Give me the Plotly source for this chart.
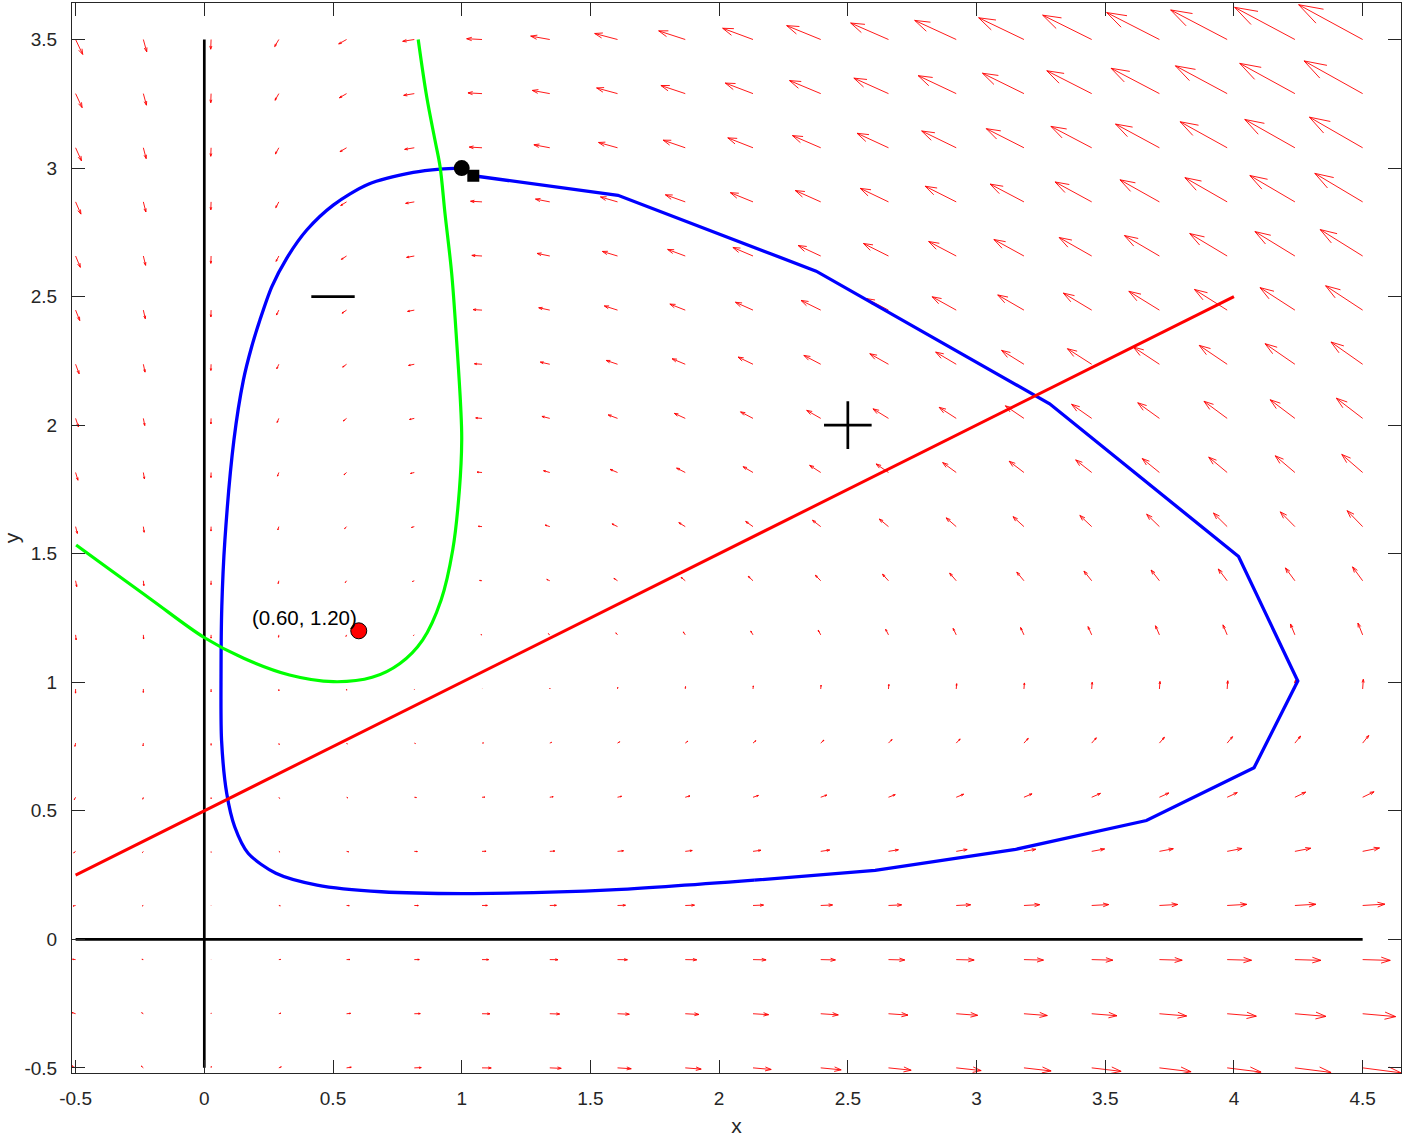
import plotly.graph_objects as go

X_GRID = [-0.5, -0.2368, 0.0263, 0.2895, 0.5526, 0.8158, 1.0789, 1.3421, 1.6053, 1.8684,
          2.1316, 2.3947, 2.6579, 2.9211, 3.1842, 3.4474, 3.7105, 3.9737, 4.2368, 4.5]
Y_GRID = [-0.5, -0.2895, -0.0789, 0.1316, 0.3421, 0.5526, 0.7632, 0.9737, 1.1842, 1.3947,
          1.6053, 1.8158, 2.0263, 2.2368, 2.4474, 2.6579, 2.8684, 3.0789, 3.2895, 3.5]

U = [
    [-0.75, -0.355, 0.039, 0.434, 0.829, 1.224, 1.618, 2.013, 2.408, 2.803, 3.197, 3.592, 3.987, 4.382, 4.776, 5.171, 5.566, 5.961, 6.355, 6.75],
    [-0.645, -0.305, 0.034, 0.373, 0.713, 1.052, 1.391, 1.731, 2.070, 2.409, 2.749, 3.088, 3.427, 3.767, 4.106, 4.445, 4.785, 5.124, 5.463, 5.803],
    [-0.539, -0.256, 0.028, 0.312, 0.596, 0.880, 1.164, 1.448, 1.732, 2.016, 2.300, 2.584, 2.868, 3.152, 3.436, 3.719, 4.003, 4.287, 4.571, 4.855],
    [-0.434, -0.206, 0.023, 0.251, 0.480, 0.708, 0.937, 1.165, 1.394, 1.623, 1.851, 2.080, 2.308, 2.537, 2.765, 2.994, 3.222, 3.451, 3.679, 3.908],
    [-0.329, -0.156, 0.017, 0.190, 0.364, 0.537, 0.710, 0.883, 1.056, 1.229, 1.402, 1.576, 1.749, 1.922, 2.095, 2.268, 2.441, 2.614, 2.787, 2.961],
    [-0.224, -0.106, 0.012, 0.130, 0.247, 0.365, 0.483, 0.600, 0.718, 0.836, 0.954, 1.071, 1.189, 1.307, 1.425, 1.542, 1.660, 1.778, 1.896, 2.013],
    [-0.118, -0.056, 0.006, 0.069, 0.131, 0.193, 0.255, 0.318, 0.380, 0.442, 0.505, 0.567, 0.629, 0.692, 0.754, 0.816, 0.879, 0.941, 1.003, 1.066],
    [-0.013, -0.006, 0.001, 0.008, 0.015, 0.021, 0.028, 0.035, 0.042, 0.049, 0.056, 0.063, 0.070, 0.077, 0.084, 0.091, 0.098, 0.105, 0.111, 0.118],
    [0.092, 0.044, -0.005, -0.053, -0.102, -0.150, -0.199, -0.247, -0.296, -0.344, -0.393, -0.441, -0.490, -0.538, -0.587, -0.635, -0.684, -0.732, -0.780, -0.829],
    [0.197, 0.093, -0.010, -0.114, -0.218, -0.322, -0.426, -0.530, -0.634, -0.737, -0.841, -0.945, -1.049, -1.153, -1.257, -1.361, -1.465, -1.569, -1.672, -1.776],
    [0.303, 0.143, -0.016, -0.175, -0.334, -0.494, -0.653, -0.812, -0.972, -1.131, -1.290, -1.450, -1.609, -1.768, -1.927, -2.087, -2.246, -2.405, -2.565, -2.724],
    [0.408, 0.193, -0.021, -0.236, -0.451, -0.666, -0.880, -1.095, -1.310, -1.524, -1.739, -1.954, -2.168, -2.383, -2.598, -2.812, -3.027, -3.242, -3.457, -3.671],
    [0.513, 0.243, -0.027, -0.297, -0.567, -0.837, -1.107, -1.377, -1.647, -1.918, -2.188, -2.458, -2.728, -2.998, -3.268, -3.538, -3.808, -4.078, -4.348, -4.618],
    [0.618, 0.293, -0.033, -0.358, -0.684, -1.009, -1.334, -1.660, -1.985, -2.311, -2.636, -2.962, -3.287, -3.613, -3.938, -4.264, -4.589, -4.914, -5.240, -5.566],
    [0.724, 0.343, -0.038, -0.419, -0.800, -1.181, -1.562, -1.943, -2.324, -2.704, -3.085, -3.466, -3.847, -4.228, -4.609, -4.990, -5.371, -5.752, -6.133, -6.513],
    [0.829, 0.393, -0.044, -0.480, -0.916, -1.353, -1.789, -2.225, -2.661, -3.098, -3.534, -3.970, -4.407, -4.843, -5.279, -5.716, -6.152, -6.588, -7.024, -7.461],
    [0.934, 0.442, -0.049, -0.541, -1.033, -1.524, -2.016, -2.508, -2.999, -3.491, -3.983, -4.475, -4.966, -5.458, -5.950, -6.441, -6.933, -7.425, -7.917, -8.408],
    [1.039, 0.492, -0.055, -0.602, -1.149, -1.696, -2.243, -2.790, -3.337, -3.884, -4.431, -4.978, -5.526, -6.073, -6.620, -7.167, -7.714, -8.261, -8.808, -9.355],
    [1.145, 0.542, -0.060, -0.663, -1.265, -1.868, -2.470, -3.073, -3.675, -4.278, -4.880, -5.483, -6.085, -6.688, -7.290, -7.893, -8.495, -9.098, -9.700, -10.303],
    [1.25, 0.592, -0.066, -0.724, -1.382, -2.039, -2.697, -3.355, -4.013, -4.671, -5.329, -5.987, -6.645, -7.303, -7.961, -8.618, -9.276, -9.934, -10.592, -11.25],
]

V = [
    [0.375, 0.309, 0.243, 0.178, 0.112, 0.046, -0.020, -0.086, -0.151, -0.217, -0.283, -0.349, -0.414, -0.480, -0.546, -0.612, -0.678, -0.743, -0.809, -0.875],
    [0.217, 0.179, 0.141, 0.103, 0.065, 0.027, -0.011, -0.050, -0.088, -0.126, -0.164, -0.202, -0.240, -0.278, -0.316, -0.354, -0.392, -0.430, -0.468, -0.507],
    [0.059, 0.049, 0.038, 0.028, 0.018, 0.007, -0.003, -0.014, -0.024, -0.034, -0.045, -0.055, -0.065, -0.076, -0.086, -0.097, -0.107, -0.117, -0.128, -0.138],
    [-0.099, -0.081, -0.064, -0.047, -0.029, -0.012, 0.005, 0.023, 0.040, 0.057, 0.074, 0.092, 0.109, 0.126, 0.144, 0.161, 0.178, 0.196, 0.213, 0.230],
    [-0.257, -0.212, -0.167, -0.122, -0.077, -0.032, 0.014, 0.059, 0.104, 0.149, 0.194, 0.239, 0.284, 0.329, 0.374, 0.419, 0.464, 0.509, 0.554, 0.599],
    [-0.414, -0.342, -0.269, -0.196, -0.124, -0.051, 0.022, 0.095, 0.167, 0.240, 0.313, 0.385, 0.458, 0.531, 0.604, 0.676, 0.749, 0.822, 0.894, 0.967],
    [-0.572, -0.472, -0.372, -0.271, -0.171, -0.070, 0.030, 0.131, 0.231, 0.331, 0.432, 0.532, 0.633, 0.733, 0.833, 0.934, 1.034, 1.135, 1.235, 1.336],
    [-0.730, -0.602, -0.474, -0.346, -0.218, -0.090, 0.038, 0.167, 0.295, 0.423, 0.551, 0.679, 0.807, 0.935, 1.063, 1.191, 1.320, 1.448, 1.576, 1.704],
    [-0.888, -0.732, -0.577, -0.421, -0.265, -0.109, 0.047, 0.203, 0.358, 0.514, 0.670, 0.826, 0.982, 1.137, 1.293, 1.449, 1.605, 1.761, 1.917, 2.072],
    [-1.046, -0.863, -0.679, -0.495, -0.312, -0.128, 0.055, 0.239, 0.422, 0.606, 0.789, 0.973, 1.156, 1.340, 1.523, 1.707, 1.890, 2.074, 2.257, 2.441],
    [-1.204, -0.993, -0.782, -0.570, -0.359, -0.148, 0.063, 0.275, 0.486, 0.697, 0.908, 1.119, 1.331, 1.542, 1.753, 1.964, 2.176, 2.387, 2.598, 2.809],
    [-1.362, -1.123, -0.884, -0.645, -0.406, -0.167, 0.072, 0.311, 0.550, 0.788, 1.027, 1.266, 1.505, 1.744, 1.983, 2.222, 2.461, 2.700, 2.939, 3.178],
    [-1.520, -1.253, -0.987, -0.720, -0.453, -0.187, 0.080, 0.347, 0.613, 0.880, 1.147, 1.413, 1.680, 1.946, 2.213, 2.480, 2.746, 3.013, 3.279, 3.546],
    [-1.678, -1.383, -1.089, -0.795, -0.500, -0.206, 0.088, 0.383, 0.677, 0.971, 1.266, 1.560, 1.854, 2.149, 2.443, 2.737, 3.032, 3.326, 3.620, 3.914],
    [-1.836, -1.514, -1.191, -0.869, -0.547, -0.225, 0.097, 0.419, 0.741, 1.063, 1.385, 1.707, 2.029, 2.351, 2.673, 2.995, 3.317, 3.639, 3.961, 4.283],
    [-1.993, -1.644, -1.294, -0.944, -0.595, -0.245, 0.105, 0.455, 0.804, 1.154, 1.504, 1.853, 2.203, 2.553, 2.903, 3.252, 3.602, 3.952, 4.302, 4.651],
    [-2.151, -1.774, -1.396, -1.019, -0.642, -0.264, 0.113, 0.491, 0.868, 1.245, 1.623, 2.000, 2.378, 2.755, 3.133, 3.510, 3.887, 4.265, 4.642, 5.020],
    [-2.309, -1.904, -1.499, -1.094, -0.689, -0.284, 0.122, 0.527, 0.932, 1.337, 1.742, 2.147, 2.552, 2.957, 3.362, 3.767, 4.173, 4.578, 4.983, 5.388],
    [-2.467, -2.034, -1.601, -1.169, -0.736, -0.303, 0.130, 0.563, 0.996, 1.428, 1.861, 2.294, 2.727, 3.160, 3.592, 4.025, 4.458, 4.891, 5.324, 5.757],
    [-2.625, -2.164, -1.704, -1.243, -0.783, -0.322, 0.138, 0.599, 1.059, 1.520, 1.980, 2.441, 2.901, 3.362, 3.822, 4.283, 4.743, 5.204, 5.664, 6.125],
]

# trajectory (starts at the circle, ends at the square)
ORBIT_X = [1.000, 0.916, 0.812, 0.637, 0.501, 0.398, 0.320, 0.262, 0.216, 0.184, 0.152, 0.115,
           0.080, 0.068, 0.065, 0.067, 0.087, 0.118, 0.171, 0.278, 0.438, 0.688, 1.045, 1.580,
           2.136, 2.606, 3.152, 3.660, 4.078, 4.248, 4.018, 3.284, 2.377, 1.607, 1.045]
ORBIT_Y = [3.000, 2.996, 2.983, 2.937, 2.856, 2.759, 2.649, 2.538, 2.409, 2.305, 2.176, 1.942,
           1.553, 1.294, 1.035, 0.775, 0.568, 0.438, 0.334, 0.257, 0.211, 0.185, 0.178, 0.192,
           0.230, 0.268, 0.350, 0.462, 0.667, 1.005, 1.489, 2.083, 2.599, 2.894, 2.970]
ORBIT_SMOOTH_END = 24  # slow part of the orbit is densely sampled (smooth), the rest is coarse

# green curve
GREEN_X = [-0.498, -0.382, -0.204, 0.001, 0.153, 0.331, 0.501, 0.652, 0.760, 0.848, 0.920,
           0.965, 0.991, 1.000, 0.996, 0.980, 0.961, 0.935, 0.916, 0.896, 0.864, 0.831]
GREEN_Y = [1.534, 1.449, 1.320, 1.173, 1.093, 1.028, 1.002, 1.019, 1.073, 1.164, 1.320,
           1.514, 1.748, 1.942, 2.072, 2.331, 2.590, 2.824, 3.005, 3.109, 3.277, 3.500]

# red straight line
RED_X = [-0.5, 4.0]
RED_Y = [0.25, 2.5]

# coordinate axes drawn as lines
VAXIS_X = [0, 0]
VAXIS_Y = [-0.5, 3.5]
HAXIS_X = [-0.5, 4.5]
HAXIS_Y = [0, 0]

POINT = (0.60, 1.20)
MINUS_POS = (0.5, 2.5)
PLUS_POS = (2.5, 2.0)

X_TICKS = [-0.5, 0, 0.5, 1, 1.5, 2, 2.5, 3, 3.5, 4, 4.5]
X_TICK_TEXT = ["-0.5", "0", "0.5", "1", "1.5", "2", "2.5", "3", "3.5", "4", "4.5"]
Y_TICKS = [-0.5, 0, 0.5, 1, 1.5, 2, 2.5, 3, 3.5]
Y_TICK_TEXT = ["-0.5", "0", "0.5", "1", "1.5", "2", "2.5", "3", "3.5"]

ARROW_SCALE = 0.0221
HEAD_A = 0.33
HEAD_B = 0.33
FONT = "Liberation Sans, Arial, sans-serif"
AXIS_GREY = "#262626"

qx, qy = [], []
for i, yv in enumerate(Y_GRID):
    for j, xv in enumerate(X_GRID):
        du = U[i][j] * ARROW_SCALE
        dv = V[i][j] * ARROW_SCALE
        tx, ty = xv + du, yv + dv
        qx += [xv, tx, None,
               tx - HEAD_A * (du + HEAD_B * dv), tx, tx - HEAD_A * (du - HEAD_B * dv), None]
        qy += [yv, ty, None,
               ty - HEAD_A * (dv - HEAD_B * du), ty, ty - HEAD_A * (dv + HEAD_B * du), None]

fig = go.Figure()
fig.add_trace(go.Scatter(x=qx, y=qy, mode="lines", line=dict(color="#ff0000", width=0.9),
                         hoverinfo="skip", showlegend=False))

for lx, ly in ((VAXIS_X, VAXIS_Y), (HAXIS_X, HAXIS_Y)):
    fig.add_trace(go.Scatter(x=lx, y=ly, mode="lines", line=dict(color="black", width=2.7),
                             hoverinfo="skip", showlegend=False))

k = ORBIT_SMOOTH_END
fig.add_trace(go.Scatter(x=ORBIT_X[:k + 1], y=ORBIT_Y[:k + 1], mode="lines",
                         line=dict(color="#0000ff", width=3.3, shape="spline", smoothing=0.8),
                         showlegend=False))
fig.add_trace(go.Scatter(x=ORBIT_X[k:], y=ORBIT_Y[k:], mode="lines",
                         line=dict(color="#0000ff", width=3.3), showlegend=False))
fig.add_trace(go.Scatter(x=RED_X, y=RED_Y, mode="lines",
                         line=dict(color="#ff0000", width=3), showlegend=False))
fig.add_trace(go.Scatter(x=GREEN_X, y=GREEN_Y, mode="lines", line_shape="spline",
                         line=dict(color="#00ff00", width=3.2), showlegend=False))

# start / end of trajectory
fig.add_trace(go.Scatter(x=[ORBIT_X[0]], y=[ORBIT_Y[0]], mode="markers",
                         marker=dict(symbol="circle", size=16, color="black"), showlegend=False))
fig.add_trace(go.Scatter(x=[ORBIT_X[-1]], y=[ORBIT_Y[-1]], mode="markers",
                         marker=dict(symbol="square", size=12, color="black"), showlegend=False))

# sign markers
fig.add_trace(go.Scatter(x=[MINUS_POS[0]], y=[MINUS_POS[1]], mode="markers",
                         marker=dict(symbol="line-ew", size=31, line=dict(color="black", width=2.7)),
                         showlegend=False))
fig.add_trace(go.Scatter(x=[PLUS_POS[0]], y=[PLUS_POS[1]], mode="markers",
                         marker=dict(symbol="cross-thin", size=34, line=dict(color="black", width=2.7)),
                         showlegend=False))

fig.add_trace(go.Scatter(x=[POINT[0]], y=[POINT[1]], mode="markers",
                         marker=dict(symbol="circle", size=16, color="#ff0000",
                                     line=dict(color="black", width=1)),
                         showlegend=False))
fig.add_annotation(x=POINT[0], y=POINT[1], text=f"({POINT[0]:.2f}, {POINT[1]:.2f})",
                   showarrow=False, xanchor="right", yanchor="bottom",
                   font=dict(family=FONT, size=20.5, color="black"))

axis_common = dict(
    showgrid=False, zeroline=False, showline=True, mirror="ticks",
    linecolor=AXIS_GREY, linewidth=1, ticks="inside", ticklen=13, tickwidth=1,
    tickcolor=AXIS_GREY, tickfont=dict(family=FONT, size=19, color=AXIS_GREY),
)
fig.update_xaxes(range=[-0.514, 4.649], tickvals=X_TICKS, ticktext=X_TICK_TEXT,
                 title=dict(text="x", font=dict(family=FONT, size=21, color=AXIS_GREY), standoff=10),
                 ticklabelstandoff=8, **axis_common)
fig.update_yaxes(range=[-0.520, 3.642], tickvals=Y_TICKS, ticktext=Y_TICK_TEXT,
                 title=dict(text="y", font=dict(family=FONT, size=21, color=AXIS_GREY), standoff=8),
                 ticklabelstandoff=10, **axis_common)

fig.update_layout(
    width=1405, height=1138,
    margin=dict(l=72, r=4, t=3, b=65, autoexpand=False),
    paper_bgcolor="white", plot_bgcolor="white",
    font=dict(family=FONT),
)

fig.write_html("out.html", config={"displayModeBar": False},
               post_script="document.body.style.margin='0';")
